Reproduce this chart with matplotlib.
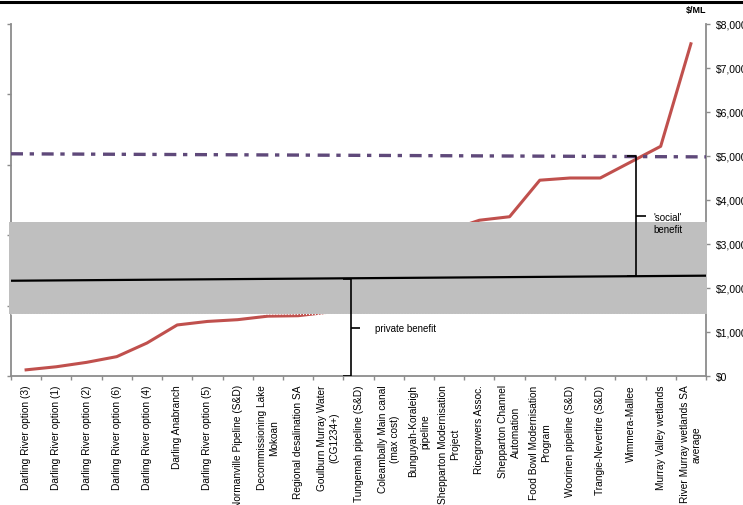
import matplotlib
matplotlib.use("Agg")
import matplotlib.pyplot as plt
from matplotlib.lines import Line2D

plt.rcParams['font.family'] = ['Liberation Sans', 'DejaVu Sans']

# projects ranked by cost of water recovered ($/ML)
projects = [
    "Darling River option (3)", "Darling River option (1)", "Darling River option (2)",
    "Darling River option (6)", "Darling River option (4)", "Darling Anabranch",
    "Darling River option (5)", "Normanville Pipeline (S&D)", "Decommissioning Lake\nMokoan",
    "Regional desalination SA", "Goulburn Murray Water\n(CG1234+)", "Tungemah pipeline (S&D)",
    "Coleambally Main canal\n(max cost)", "Bunguyah-Koraleigh\npipeline",
    "Shepparton Modernisation\nProject", "Ricegrowers Assoc.", "Shepparton Channel\nAutomation",
    "Food Bowl Modernisation\nProgram", "Woorinen pipeline (S&D)", "Trangie-Nevertire (S&D)",
    "Wimmera-Mallee", "Murray Valley wetlands", "River Murray wetlands SA\naverage",
]
cost = [140, 210, 310, 440, 750, 1160, 1240, 1280, 1360, 1370, 1450, 1800, 2300, 2900,
        3310, 3540, 3620, 4450, 4500, 4500, 4860, 5220, 7550]

# reference levels ($/ML) at the left and right edges
market_price = [5050, 4980]
private_value = [2165, 2280]
band_low, band_high = 1400, 3500

yticks = list(range(0, 8001, 1000))
ytick_labels = ["$0", "$1,000", "$2,000", "$3,000", "$4,000",
                "$5,000", "$6,000", "$7,000", "$8,000"]

fig = plt.figure(figsize=(7.43, 5.06), dpi=100)
ax = fig.add_axes([11 / 743, 1 - 377 / 506, 695 / 743, 352 / 506])

n = len(projects)
x = list(range(n))
x0, x1 = -0.5, n - 0.5
grey = '#8c8c8c'

ax.plot(x, cost, color='#c0504d', lw=2.2, zorder=2, solid_joinstyle='round')

# shaded range of private value
ax.axhspan(band_low, band_high, xmin=-0.003, xmax=1.002, color='#bfbfbf',
           lw=0, zorder=3, clip_on=False)
ax.plot([x0, x1], [band_low, band_low], color='white', lw=0.8, ls=':', zorder=3.1)

ax.plot([x0, x1], market_price, color='#5f497a', lw=2.4,
        ls=(0, (3.6, 2.0, 1.3, 2.3)), zorder=4)
ax.plot([x0, x1], private_value, color='black', lw=1.6, zorder=4)

# braces
def brace(xv, y_lo, y_hi, y_mid, hook, tip):
    kw = dict(color='black', lw=1.2, zorder=5, solid_capstyle='butt')
    ax.plot([hook, xv, xv, hook], [y_hi, y_hi, y_lo, y_lo], **kw)
    ax.plot([xv, tip], [y_mid, y_mid], **kw)

brace(10.76, 0, 2200, 1090, 10.48, 11.06)
brace(20.2, 2270, 5000, 3640, 19.9, 20.5)

ax.text(11.55, 1090, "private benefit", fontsize=7, va='center', ha='left', zorder=6)
ax.text(20.75, 3480, "'social'\nbenefit", fontsize=7, va='center', ha='left',
        linespacing=1.25, zorder=6)

ax.set_xlim(x0, x1)
ax.set_ylim(0, 8000)

ax.set_xticks([i - 0.5 for i in range(n + 1)])
ax.set_xticklabels([])
ax.set_xticks(x, minor=True)
ax.set_xticklabels(projects, minor=True, rotation=90, fontsize=7.3,
                   va='top', ha='center', multialignment='center', linespacing=1.3)
ax.tick_params(axis='x', which='major', direction='out', length=3, width=1, color=grey)
ax.tick_params(axis='x', which='minor', length=0, pad=6)

ax.yaxis.tick_right()
ax.set_yticks(yticks)
ax.set_yticklabels(ytick_labels, fontsize=7.5)
ax.tick_params(axis='y', direction='out', length=3, width=1, color=grey, pad=4)

# unlabelled left scale
left = ax.secondary_yaxis('left', functions=(lambda v: v / 1600, lambda v: v * 1600))
left.set_yticks(range(6))
left.set_yticklabels([])
left.tick_params(direction='out', length=3, width=1, color=grey)
left.spines['left'].set_color(grey)
left.spines['left'].set_linewidth(1.3)

for side in ['left', 'right', 'bottom']:
    ax.spines[side].set_color(grey)
    ax.spines[side].set_linewidth(1.3)
ax.spines['top'].set_visible(False)
ax.spines['left'].set_visible(False)

ax.text(1.0, 1.04, "$/ML", transform=ax.transAxes, fontsize=6.5,
        fontweight='bold', ha='right', va='center')

fig.add_artist(Line2D([0, 1], [1 - 3 / 506] * 2, color='black', lw=2.2))

fig.savefig('out.png', dpi=100)
